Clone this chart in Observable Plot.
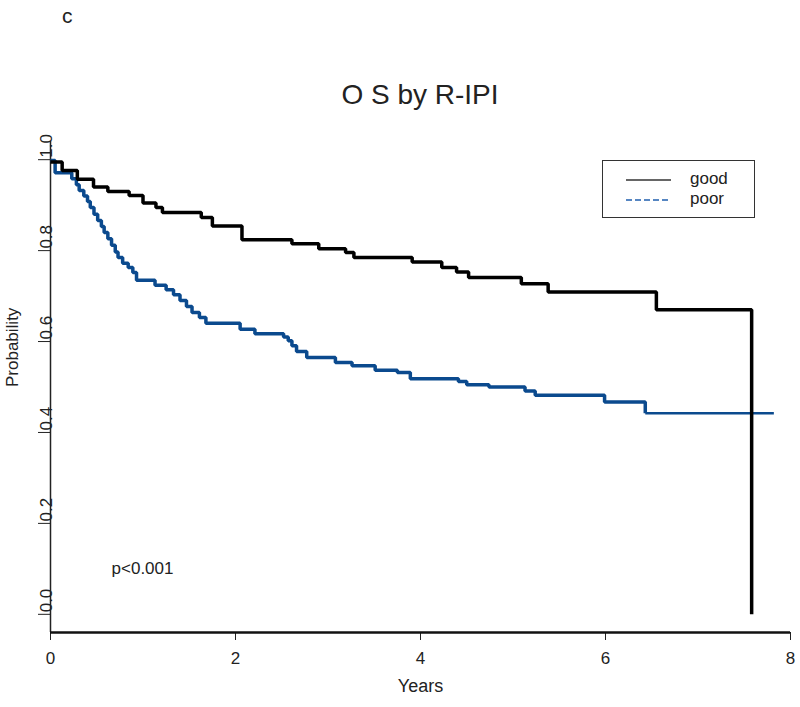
<!DOCTYPE html>
<html>
<head>
<meta charset="utf-8">
<script src="https://cdn.jsdelivr.net/npm/d3@7"></script>
<script src="https://cdn.jsdelivr.net/npm/@observablehq/plot@0.6"></script>
<style>
  html, body { margin: 0; padding: 0; background: white; }
  #wrap { position: relative; width: 800px; height: 707px; font-family: "Liberation Sans", Arial, sans-serif; color: #222; }
  #panel { position: absolute; left: 62px; top: 4px; font-size: 21px; }
  #title { position: absolute; left: 0; width: 840px; top: 79px; text-align: center; font-size: 28px; }
  #legend { position: absolute; left: 602px; top: 160px; width: 153px; height: 58px; border: 1px solid #333; box-sizing: border-box; background: white; }
  #legend .row { position: absolute; left: 0; height: 20px; width: 100%; }
  #legend svg { position: absolute; left: 22px; top: 0; }
  #legend span { position: absolute; left: 87px; top: 0; font-size: 17px; line-height: 20px; }
  #chart { position: absolute; left: 0; top: 0; }
</style>
</head>
<body>
<div id="wrap">
  <div id="chart"></div>
  <div id="panel">c</div>
  <div id="title">O S by R-IPI</div>
  <div id="legend"></div>
</div>
<script>
// ---- data ----
const seriesNames = ["good", "poor"];
const seriesColors = ["#000000", "#0b4a8e"];

const goodTime = [0, 0.126, 0.29, 0.465, 0.62, 0.85, 1.0, 1.14, 1.21, 1.63, 1.75, 2.07, 2.61, 2.90, 3.19, 3.28, 3.91, 4.23, 4.39, 4.52, 5.09, 5.38, 6.55, 7.58];
const goodSurv = [0.995, 0.976, 0.957, 0.940, 0.930, 0.921, 0.905, 0.895, 0.884, 0.873, 0.854, 0.824, 0.815, 0.804, 0.796, 0.785, 0.775, 0.763, 0.753, 0.741, 0.727, 0.709, 0.670, 0.0];

const poorTime = [0, 0.05, 0.23, 0.28, 0.31, 0.36, 0.40, 0.43, 0.47, 0.51, 0.55, 0.58, 0.62, 0.66, 0.70, 0.73, 0.78, 0.84, 0.89, 0.93, 1.13, 1.25, 1.33, 1.40, 1.47, 1.53, 1.61, 1.68, 2.05, 2.21, 2.52, 2.57, 2.61, 2.66, 2.77, 3.08, 3.26, 3.51, 3.75, 3.89, 4.41, 4.50, 4.74, 5.13, 5.24, 5.99, 6.43, 7.82];
const poorSurv = [0.998, 0.971, 0.958, 0.945, 0.932, 0.920, 0.908, 0.895, 0.880, 0.866, 0.853, 0.840, 0.826, 0.812, 0.797, 0.785, 0.772, 0.763, 0.752, 0.735, 0.724, 0.714, 0.703, 0.690, 0.677, 0.664, 0.653, 0.640, 0.627, 0.617, 0.610, 0.602, 0.591, 0.578, 0.565, 0.554, 0.547, 0.537, 0.532, 0.518, 0.512, 0.505, 0.500, 0.491, 0.482, 0.467, 0.442, 0.442];

const xTicks = [0, 2, 4, 6, 8];
const yTicks = [0.0, 0.2, 0.4, 0.6, 0.8, 1.0];
const yTickLabels = ["0.0", "0.2", "0.4", "0.6", "0.8", "1.0"];
const annotations = [{t: 0.66, p: 0.101, label: "p<0.001"}];
const xLabel = "Years";
const yLabel = "Probability";

// ---- build tables ----
const good = goodTime.map((t, i) => ({t, p: goodSurv[i]}));
const poor = poorTime.map((t, i) => ({t, p: poorSurv[i]}));
const poorMain = poor.slice(0, poor.length - 1);
const poorTail = poor.slice(poor.length - 2);
const yLabelRows = yTicks.map((v, i) => ({v, label: yTickLabels[i]}));

const chart = Plot.plot({
  width: 800,
  height: 707,
  marginTop: 141,
  marginBottom: 75,
  marginLeft: 50,
  marginRight: 10,
  style: {fontFamily: "'Liberation Sans', Arial, sans-serif", fontSize: "17px", color: "#222", background: "transparent"},
  x: {domain: [0, 8]},
  y: {domain: [-0.04, 1.04]},
  marks: [
    Plot.axisX({ticks: xTicks, tickSize: 8, tickPadding: 11, label: null, fontSize: 17, stroke: "#222"}),
    Plot.axisY({ticks: yTicks, tickSize: 12, tickFormat: () => "", label: null, stroke: "#222"}),
    Plot.text(yLabelRows, {y: "v", text: "label", frameAnchor: "left", rotate: -90, textAnchor: "start", lineAnchor: "bottom", dx: 1, dy: -2, fontSize: 17, fill: "#222"}),
    Plot.ruleX([0], {y1: -0.04, y2: 1.04, stroke: "#222", strokeWidth: 1.5}),
    Plot.ruleY([-0.04], {x1: 0, x2: 8, stroke: "#111", strokeWidth: 2.5}),
    Plot.line(poorMain, {x: "t", y: "p", curve: "step-after", stroke: seriesColors[1], strokeWidth: 3.5, strokeLinejoin: "miter", strokeLinecap: "butt"}),
    Plot.line(poorTail, {x: "t", y: "p", curve: "step-after", stroke: seriesColors[1], strokeWidth: 2.5, strokeLinecap: "butt"}),
    Plot.line(good, {x: "t", y: "p", curve: "step-after", stroke: seriesColors[0], strokeWidth: 3.5, strokeLinejoin: "miter", strokeLinecap: "butt"}),
    Plot.text(annotations, {x: "t", y: "p", text: "label", textAnchor: "start", fontSize: 17, fill: "#222"}),
    Plot.text([xLabel], {frameAnchor: "bottom", dy: 59, fontSize: 18, fill: "#222"}),
    Plot.text([yLabel], {frameAnchor: "left", rotate: -90, dx: -38, fontSize: 17, fill: "#222"})
  ]
});
document.getElementById("chart").appendChild(chart);

// ---- legend ----
const legend = document.getElementById("legend");
seriesNames.forEach((name, i) => {
  const row = document.createElement("div");
  row.className = "row";
  row.style.top = (i === 0 ? 8 : 28) + "px";
  const dash = i === 0 ? "" : ' stroke-dasharray="6,3"';
  row.innerHTML = `<svg width="50" height="20"><line x1="1" x2="46" y1="11" y2="11" stroke="${i === 0 ? "#333" : "#1f5fae"}" stroke-width="1.3"${dash}/></svg><span>${name}</span>`;
  legend.appendChild(row);
});
</script>
</body>
</html>
